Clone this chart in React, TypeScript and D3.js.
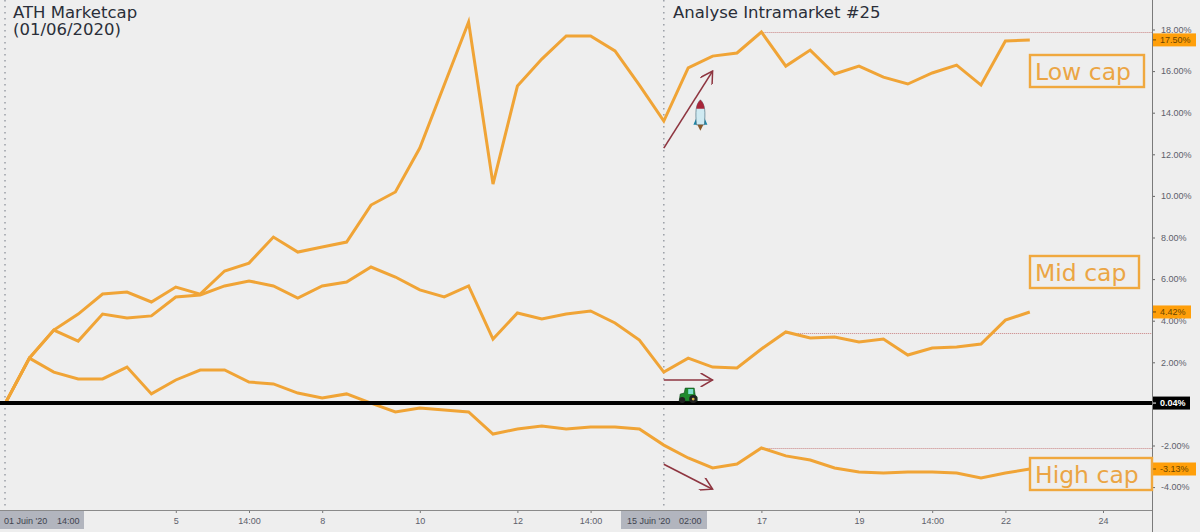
import { useEffect, useRef } from 'react';
import * as d3 from 'd3';

const lowCap = [0, 2.2, 3.55, 4.32, 5.28, 5.38, 4.9, 5.62, 5.28, 6.39, 6.77, 8.02, 7.3, 7.54, 7.78, 9.56, 10.19, 12.3, 15.33, 18.36, 10.57, 15.28, 16.58, 17.69, 17.69, 16.97, 15.33, 13.6, 16.15, 16.72, 16.87, 17.88, 16.24, 17.01, 15.86, 16.24, 15.71, 15.38, 15.91, 16.29, 15.33, 17.45, 17.5];
const midCap = [0, 2.2, 3.55, 3.02, 4.32, 4.13, 4.23, 5.14, 5.24, 5.67, 5.91, 5.67, 5.09, 5.67, 5.86, 6.58, 6.1, 5.48, 5.14, 5.67, 3.12, 4.37, 4.08, 4.32, 4.47, 3.89, 3.07, 1.53, 2.2, 1.77, 1.73, 2.64, 3.46, 3.17, 3.22, 2.98, 3.12, 2.35, 2.69, 2.74, 2.88, 4.03, 4.42];
const highCap = [0, 2.2, 1.53, 1.2, 1.2, 1.77, 0.48, 1.15, 1.63, 1.63, 1.05, 0.96, 0.52, 0.28, 0.48, 0.04, -0.39, -0.2, -0.29, -0.39, -1.45, -1.21, -1.06, -1.21, -1.11, -1.11, -1.21, -1.98, -2.6, -3.08, -2.89, -2.12, -2.5, -2.7, -3.08, -3.27, -3.32, -3.27, -3.27, -3.32, -3.56, -3.32, -3.13];

const yTicks = [18, 16, 14, 12, 10, 8, 6, 4, 2, -2, -4];
const xTickIndex = [7, 10, 13, 17, 21, 24, 31, 35, 38, 41, 45];
const xTickLabels = ['5', '14:00', '8', '10', '12', '14:00', '17', '19', '14:00', '22', '24'];

// last values shown as tags on the price scale
const priceTags = [
  { value: 17.5, label: '17.50%', w: 43 },
  { value: 4.42, label: '4.42%', w: 38 },
  { value: -3.13, label: '-3.13%', w: 43 },
];
const levels = [
  { from: 31, value: 17.88 },
  { from: 32, value: 3.42 },
  { from: 31, value: -2.1 },
];
const arrows = [
  { from: 12.3, to: 16 },
  { from: 1.15, to: 1.15 },
  { from: -2.9, to: -4.1 },
];
const capLabels = [
  { text: 'Low cap', x: 1030, y: 55, w: 114 },
  { text: 'Mid cap', x: 1030, y: 256, w: 109 },
  { text: 'High cap', x: 1030, y: 458, w: 122 },
];

const ORANGE = '#f0a436';
const BG = '#eeeeee';
const FONT = '"DejaVu Sans", sans-serif';
const TICK_FONT = '"Liberation Sans", sans-serif';

export default function App() {
  const svgRef = useRef<SVGSVGElement>(null);

  useEffect(() => {
    if (!svgRef.current) return;
    const width = 1200;
    const height = 532;
    const plotRight = 1152;
    const plotBottom = 510;

    const svg = d3.select(svgRef.current);
    svg.selectAll('*').remove();

    const x = d3.scaleLinear().domain([0, 45]).range([5, 1103]);
    const y = d3.scaleLinear().domain([18, -4]).range([29.5, 487.1]);

    svg
      .append('defs')
      .append('marker')
      .attr('id', 'head')
      .attr('viewBox', '0 0 14 14')
      .attr('refX', 13)
      .attr('refY', 7)
      .attr('markerWidth', 14)
      .attr('markerHeight', 14)
      .attr('markerUnits', 'userSpaceOnUse')
      .attr('orient', 'auto')
      .append('path')
      .attr('d', 'M1,0 L13,7 L1,14')
      .attr('fill', 'none')
      .attr('stroke', '#8e3540')
      .attr('stroke-width', 1.5);

    svg.append('rect').attr('width', width).attr('height', height).attr('fill', BG);

    // session separators
    [0, 27].forEach((i) => {
      svg
        .append('line')
        .attr('x1', x(i))
        .attr('x2', x(i))
        .attr('y1', 0)
        .attr('y2', plotBottom)
        .attr('stroke', '#9a9ea6')
        .attr('stroke-width', 1.5)
        .attr('stroke-dasharray', '1.5 4.5');
    });

    levels.forEach((d) => {
      svg
        .append('line')
        .attr('x1', x(d.from))
        .attr('x2', plotRight)
        .attr('y1', Math.round(y(d.value)) + 0.5)
        .attr('y2', Math.round(y(d.value)) + 0.5)
        .attr('stroke', '#c98080')
        .attr('stroke-width', 1)
        .attr('stroke-dasharray', '1 1');
    });

    const line = d3
      .line<number>()
      .x((_, i) => x(i))
      .y((d) => y(d));

    [lowCap, midCap, highCap].forEach((values) => {
      svg
        .append('path')
        .datum(values)
        .attr('fill', 'none')
        .attr('stroke', ORANGE)
        .attr('stroke-width', 3)
        .attr('stroke-linejoin', 'miter')
        .attr('d', line);
    });

    svg
      .append('line')
      .attr('x1', 0)
      .attr('x2', plotRight)
      .attr('y1', y(0.04))
      .attr('y2', y(0.04))
      .attr('stroke', '#000')
      .attr('stroke-width', 4);

    arrows.forEach((d) => {
      svg
        .append('line')
        .attr('x1', x(27))
        .attr('x2', x(29))
        .attr('y1', y(d.from))
        .attr('y2', y(d.to))
        .attr('stroke', '#8e3540')
        .attr('stroke-width', 1.6)
        .attr('marker-end', 'url(#head)');
    });

    // rocket
    const rocket = svg.append('g').attr('transform', `translate(${x(28.5)}, ${y(13.85)})`);
    rocket.append('path').attr('d', 'M-4,2 L-7,9 L-3,9 Z M4,2 L7,9 L3,9 Z').attr('fill', '#1c86a8');
    rocket.append('path').attr('d', 'M0,-16 C5,-11 5,-4 4,9 L-4,9 C-5,-4 -5,-11 0,-16 Z').attr('fill', '#cfeaf2').attr('stroke', '#3a6070').attr('stroke-width', 0.6);
    rocket.append('path').attr('d', 'M0,-16 C3,-13 4,-10 4,-7 L-4,-7 C-4,-10 -3,-13 0,-16 Z').attr('fill', '#a8263a');
    rocket.append('path').attr('d', 'M-3,9 L3,9 L0,15 Z').attr('fill', '#8a5a2b');

    // tractor
    const tractor = svg.append('g').attr('transform', `translate(${x(28)}, ${y(0.04)})`);
    tractor.append('path').attr('d', 'M-9,-2 L-8,-9 L-4,-10 L-3,-15 L6,-15 L7,-8 L9,-6 L9,-2 Z').attr('fill', '#1f8a2e').attr('stroke', '#0d4a18').attr('stroke-width', 0.6);
    tractor.append('rect').attr('x', 0).attr('y', -14).attr('width', 5).attr('height', 5).attr('fill', '#7fe0d0');
    tractor.append('circle').attr('cx', -6).attr('cy', -3).attr('r', 3).attr('fill', '#222');
    tractor.append('circle').attr('cx', 5).attr('cy', -4).attr('r', 4).attr('fill', '#222');
    tractor.append('circle').attr('cx', 5).attr('cy', -4).attr('r', 1.4).attr('fill', '#d9b84a');

    // axes
    const yAxis = svg
      .append('g')
      .attr('transform', `translate(${plotRight}, 0)`)
      .call(
        d3
          .axisRight(y)
          .tickValues(yTicks)
          .tickSize(3)
          .tickPadding(6)
          .tickFormat((d) => `${(d as number).toFixed(2)}%`),
      );
    yAxis.select('.domain').remove();
    yAxis.selectAll('line').attr('stroke', '#666');
    yAxis.selectAll('text').attr('font-family', TICK_FONT).attr('font-size', 9).attr('fill', '#5d606b');

    const xAxis = svg
      .append('g')
      .attr('transform', `translate(0, ${plotBottom})`)
      .call(
        d3
          .axisBottom(x)
          .tickValues(xTickIndex)
          .tickSize(3)
          .tickPadding(5)
          .tickFormat((_, i) => xTickLabels[i]),
      );
    xAxis.select('.domain').remove();
    xAxis.selectAll('line').attr('stroke', '#777');
    xAxis.selectAll('text').attr('font-family', TICK_FONT).attr('font-size', 9).attr('fill', '#5d606b');

    svg.append('line').attr('x1', 0).attr('x2', plotRight).attr('y1', plotBottom + 0.5).attr('y2', plotBottom + 0.5).attr('stroke', '#8a8a8a');
    svg.append('line').attr('x1', plotRight + 0.5).attr('x2', plotRight + 0.5).attr('y1', 0).attr('y2', height).attr('stroke', '#7a7a7a');

    // highlighted dates
    [
      { x: 0, w: 84, a: "01 Juin '20", b: '14:00', ax: 4, bx: 57 },
      { x: 621, w: 86, a: "15 Juin '20", b: '02:00', ax: 627, bx: 679 },
    ].forEach((d) => {
      svg.append('rect').attr('x', d.x).attr('y', plotBottom + 1).attr('width', d.w).attr('height', 18).attr('fill', '#b2b5be');
      [[d.a, d.ax], [d.b, d.bx]].forEach(([t, tx]) => {
        svg
          .append('text')
          .attr('x', tx)
          .attr('y', plotBottom + 14)
          .attr('font-family', TICK_FONT)
          .attr('font-size', 9)
          .attr('fill', '#40434e')
          .text(t);
      });
    });

    // price tags
    const tag = (value: number, label: string, w: number, fill: string, color: string, weight: string) => {
      svg.append('rect').attr('x', plotRight + 1).attr('y', y(value) - 6.5).attr('width', w).attr('height', 13).attr('fill', fill);
      svg.append('line').attr('x1', plotRight + 1).attr('x2', plotRight + 4).attr('y1', y(value)).attr('y2', y(value)).attr('stroke', color);
      svg
        .append('text')
        .attr('x', plotRight + 8)
        .attr('y', y(value))
        .attr('dy', '0.35em')
        .attr('font-family', TICK_FONT)
        .attr('font-size', 9)
        .attr('font-weight', weight)
        .attr('fill', color)
        .text(label);
    };
    priceTags.forEach((d) => tag(d.value, d.label, d.w, '#ff9f0a', '#6a4500', 'normal'));
    tag(0.04, '0.04%', 37, '#000', '#fff', 'bold');

    // annotations
    capLabels.forEach((d) => {
      svg.append('rect').attr('x', d.x).attr('y', d.y).attr('width', d.w).attr('height', 32).attr('fill', BG).attr('stroke', '#f0a83e').attr('stroke-width', 2.4);
      svg
        .append('text')
        .attr('x', d.x + 5)
        .attr('y', d.y + 25)
        .attr('font-family', FONT)
        .attr('font-size', 23.5)
        .attr('fill', '#eba544')
        .text(d.text);
    });

    [
      { t: 'ATH Marketcap', x: 13, y: 18 },
      { t: '(01/06/2020)', x: 13, y: 35 },
      { t: 'Analyse Intramarket #25', x: 673, y: 18 },
    ].forEach((d) => {
      svg
        .append('text')
        .attr('x', d.x)
        .attr('y', d.y)
        .attr('font-family', FONT)
        .attr('font-size', 16.5)
        .attr('fill', '#2a2e39')
        .text(d.t);
    });
  }, []);

  return (
    <svg
      ref={svgRef}
      width={1200}
      height={532}
      viewBox="0 0 1200 532"
      style={{ position: 'absolute', left: 0, top: 0, display: 'block' }}
    />
  );
}
